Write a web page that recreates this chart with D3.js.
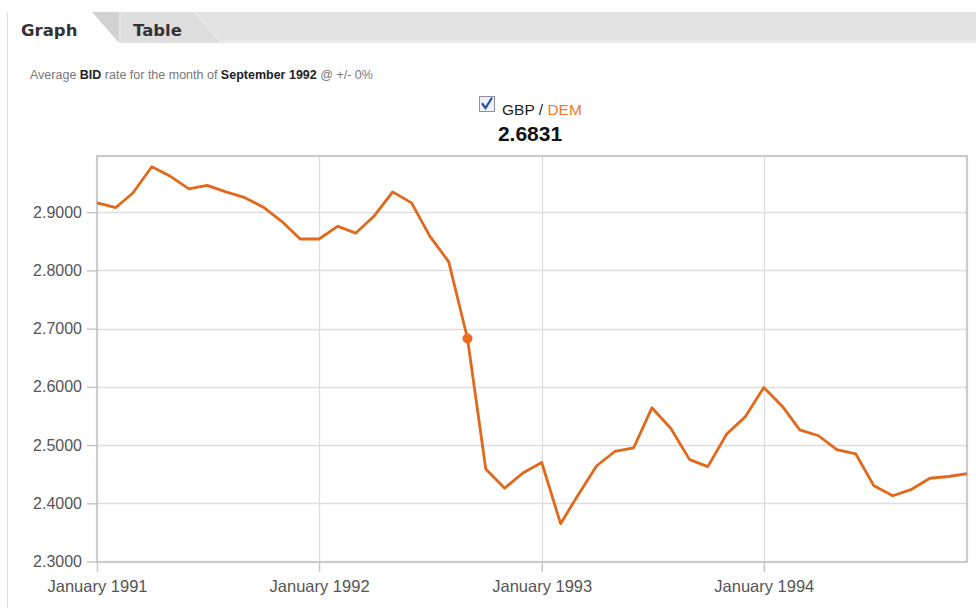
<!DOCTYPE html>
<html>
<head>
<meta charset="utf-8">
<script src="https://cdn.jsdelivr.net/npm/d3@7"></script>
<style>
  html, body { margin: 0; padding: 0; background: #fff; }
  svg { display: block; }
</style>
</head>
<body>
<svg id="chart" width="976" height="608"></svg>
<script>
// ---- data ----
const months = [
  "1991-01","1991-02","1991-03","1991-04","1991-05","1991-06","1991-07","1991-08","1991-09","1991-10","1991-11","1991-12",
  "1992-01","1992-02","1992-03","1992-04","1992-05","1992-06","1992-07","1992-08","1992-09","1992-10","1992-11","1992-12",
  "1993-01","1993-02","1993-03","1993-04","1993-05","1993-06","1993-07","1993-08","1993-09","1993-10","1993-11","1993-12",
  "1994-01","1994-02","1994-03","1994-04","1994-05","1994-06","1994-07","1994-08","1994-09","1994-10","1994-11","1994-12"
];
const gbpDem = [
  2.916, 2.908, 2.933, 2.978, 2.962, 2.940, 2.946, 2.935, 2.925, 2.909, 2.884, 2.854,
  2.854, 2.876, 2.864, 2.894, 2.935, 2.916, 2.859, 2.815, 2.6831, 2.459, 2.426, 2.452,
  2.470, 2.365, 2.413, 2.464, 2.489, 2.495, 2.564, 2.529, 2.475, 2.463, 2.519, 2.548,
  2.599, 2.566, 2.526, 2.516, 2.492, 2.485, 2.430, 2.413, 2.424, 2.443, 2.446, 2.451
];
const yTickValues = [2.3, 2.4, 2.5, 2.6, 2.7, 2.8, 2.9];
const xTickMonths = ["1991-01", "1992-01", "1993-01", "1994-01"];
const highlightMonth = "1992-09";
const highlightValue = "2.6831";
const tabs = ["Graph", "Table"];

// ---- setup ----
const parse = d3.timeParse("%Y-%m");
const data = months.map((m, i) => ({ date: parse(m), value: gbpDem[i] }));
const svg = d3.select("#chart");

const x = d3.scaleTime()
  .domain(d3.extent(data, d => d.date))
  .range([97, 967]);
const y = d3.scaleLinear()
  .domain([2.3, 3.0])
  .range([561.5, 154]);

// ---- tab header ----
svg.append("rect").attr("x", 7).attr("y", 12).attr("width", 969).attr("height", 31).attr("fill", "#e3e3e3");
svg.append("rect").attr("x", 7).attr("y", 40).attr("width", 969).attr("height", 3).attr("fill", "#e9e9e9");
// Table tab
svg.append("path").attr("d", "M121,12 L195,12 L221,43 L121,43 Z").attr("fill", "#dedede");
svg.append("path").attr("d", "M195,12 L221,43").attr("stroke", "#ececec").attr("stroke-width", 1.5);
// Graph tab shadow + tab
svg.append("path").attr("d", "M92,12 L119,12 L119,43 Z").attr("fill", "#d2d2d2");
svg.append("path").attr("d", "M7,12 L92,12 L119,43 L7,43 Z").attr("fill", "#fff");
svg.append("line").attr("x1", 7.5).attr("x2", 7.5).attr("y1", 12).attr("y2", 608)
  .attr("stroke", "#e2e2e2").attr("stroke-width", 1);

svg.append("text").attr("x", 21).attr("y", 36)
  .attr("font-family", "'DejaVu Sans', Verdana, sans-serif").attr("font-weight", "bold")
  .attr("font-size", 16.5).attr("fill", "#333").text(tabs[0]);
svg.append("text").attr("x", 133).attr("y", 36)
  .attr("font-family", "'DejaVu Sans', Verdana, sans-serif").attr("font-weight", "bold")
  .attr("font-size", 16.5).attr("fill", "#333").text(tabs[1]);

// ---- subtitle ----
const sub = svg.append("text").attr("x", 30).attr("y", 79)
  .attr("font-family", "'Liberation Sans', Arial, sans-serif").attr("font-size", 12.5).attr("fill", "#777");
sub.append("tspan").text("Average ");
sub.append("tspan").attr("font-weight", "bold").attr("fill", "#222").text("BID");
sub.append("tspan").text(" rate for the month of ");
sub.append("tspan").attr("font-weight", "bold").attr("fill", "#222").text(d3.timeFormat("%B %Y")(parse(highlightMonth)));
sub.append("tspan").text(" @ +/- 0%");

// ---- legend ----
const cb = svg.append("g").attr("transform", "translate(479,96)");
cb.append("rect").attr("x", 0.5).attr("y", 0.5).attr("width", 15).attr("height", 15)
  .attr("fill", "#eef1f6").attr("stroke", "#8f8f9d").attr("stroke-width", 1);
cb.append("path").attr("d", "M3.5,8 L6.5,12 L12.5,2.5")
  .attr("fill", "none").attr("stroke", "#2a4fa0").attr("stroke-width", 2.2).attr("stroke-linecap", "round");
const lg = svg.append("text").attr("x", 502).attr("y", 115)
  .attr("font-family", "'Liberation Sans', Arial, sans-serif").attr("font-size", 15.5).attr("fill", "#222");
lg.append("tspan").text("GBP / ");
lg.append("tspan").attr("fill", "#f07a2a").text("DEM");
svg.append("text").attr("x", 530).attr("y", 141).attr("text-anchor", "middle")
  .attr("font-family", "'Liberation Sans', Arial, sans-serif").attr("font-weight", "bold")
  .attr("font-size", 21).attr("fill", "#111").text(highlightValue);

// ---- grid ----
const g = svg.append("g");
g.selectAll(".hg").data(yTickValues.slice(1)).enter().append("line")
  .attr("x1", 97).attr("x2", 967)
  .attr("y1", d => Math.round(y(d)) + 0.5).attr("y2", d => Math.round(y(d)) + 0.5)
  .attr("stroke", "#dedede").attr("stroke-width", 1.3);
g.selectAll(".vg").data(xTickMonths.slice(1)).enter().append("line")
  .attr("x1", d => Math.round(x(parse(d))) + 0.5).attr("x2", d => Math.round(x(parse(d))) + 0.5)
  .attr("y1", 155).attr("y2", 562)
  .attr("stroke", "#dedede").attr("stroke-width", 1.3);

// ---- frame ----
svg.append("rect").attr("x", 97).attr("y", 156).attr("width", 870).attr("height", 406)
  .attr("fill", "none").attr("stroke", "#cbcbcb").attr("stroke-width", 2.2);

// ---- axes ----
const yAxis = d3.axisLeft(y).tickValues(yTickValues).tickFormat(d3.format(".4f")).tickSize(10).tickPadding(5);
const ya = svg.append("g").attr("transform", "translate(97,0)").call(yAxis);
ya.select(".domain").remove();
ya.selectAll(".tick line").attr("stroke", "#c8c8c8").attr("stroke-width", 1.5);
ya.selectAll(".tick text").attr("font-family", "'Liberation Sans', Arial, sans-serif")
  .attr("font-size", 16).attr("fill", "#555");

const xAxis = d3.axisBottom(x).tickValues(xTickMonths.map(parse)).tickFormat(d3.timeFormat("%B %Y")).tickSize(10).tickPadding(8);
const xa = svg.append("g").attr("transform", "translate(0,562)").call(xAxis);
xa.select(".domain").remove();
xa.selectAll(".tick line").attr("stroke", "#c8c8c8").attr("stroke-width", 1.5);
xa.selectAll(".tick text").attr("font-family", "'Liberation Sans', Arial, sans-serif")
  .attr("font-size", 16.5).attr("fill", "#555");

// ---- line ----
const line = d3.line().x(d => x(d.date)).y(d => y(d.value));
svg.append("path").datum(data).attr("d", line)
  .attr("fill", "none").attr("stroke", "#e0691c").attr("stroke-width", 2.8)
  .attr("stroke-linejoin", "round");

const hl = data.find(d => +d.date === +parse(highlightMonth));
svg.append("circle").attr("cx", x(hl.date)).attr("cy", y(hl.value)).attr("r", 5)
  .attr("fill", "#f26a1b");
</script>
</body>
</html>
